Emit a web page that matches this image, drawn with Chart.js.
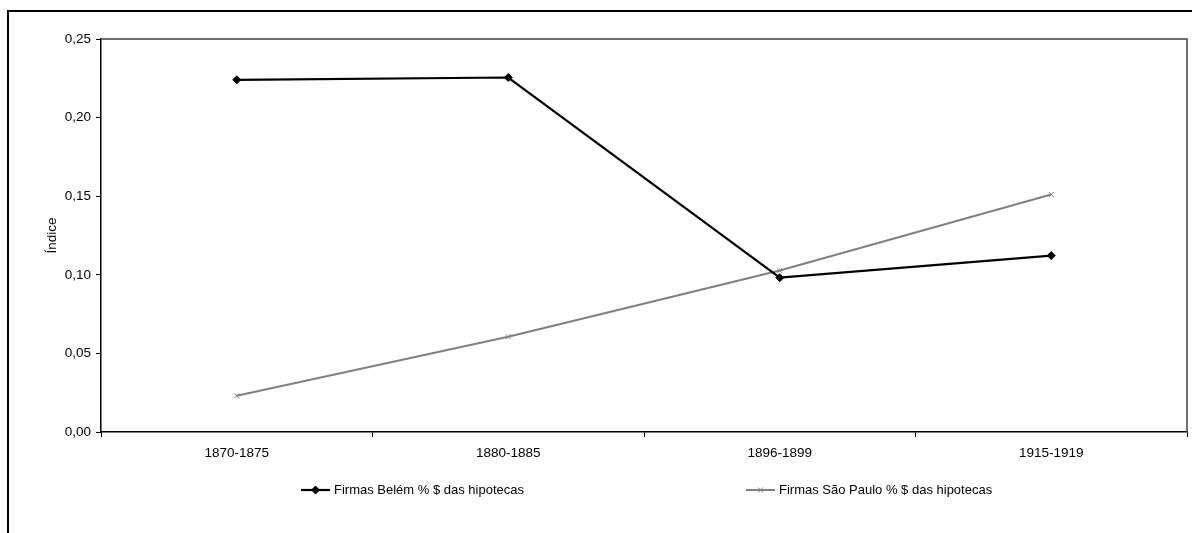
<!DOCTYPE html>
<html>
<head>
<meta charset="utf-8">
<script src="https://cdn.jsdelivr.net/npm/chart.js@4"></script>
<style>
body{margin:0;background:#fff;overflow:hidden}
#box{position:absolute;left:7px;top:10px;width:1200px;height:540px;border:2px solid #000;box-sizing:border-box}
#wrap{position:absolute;left:0;top:0;width:1192px;height:533px}
</style>
</head>
<body>
<div id="box"></div>
<div id="wrap"><canvas id="chart"></canvas></div>
<script>
const periods=["1870-1875","1880-1885","1896-1899","1915-1919"];
const belem=[0.224,0.2255,0.0982,0.1122];
const saoPaulo=[0.023,0.0606,0.1027,0.1511];
const seriesNames=["Firmas Belém % $ das hipotecas","Firmas São Paulo % $ das hipotecas"];
const yTicks=[0,0.05,0.10,0.15,0.20,0.25];

const font="'Liberation Sans', Arial, sans-serif";
const ctx=document.getElementById("chart");

/* moldura da área do gráfico (topo e direita) */
const frame={
  id:"frame",
  beforeDatasetsDraw(c){
    const a=c.chartArea,g=c.ctx;
    g.save();
    g.strokeStyle="#404040";g.lineWidth=1.5;
    g.beginPath();g.moveTo(a.left,a.top);g.lineTo(a.right,a.top);g.lineTo(a.right,a.bottom);g.stroke();
    g.restore();
  }
};

/* legenda no estilo Excel: linha + marcador */
const legendX=[301,746],legendY=490;
const excelLegend={
  id:"excelLegend",
  afterDraw(c){
    const g=c.ctx;
    c.data.datasets.forEach((d,i)=>{
      const x=legendX[i];
      g.save();
      g.strokeStyle=d.borderColor;g.lineWidth=d.borderWidth;
      g.beginPath();g.moveTo(x,legendY);g.lineTo(x+29,legendY);g.stroke();
      g.fillStyle=d.pointBackgroundColor;g.strokeStyle=d.pointBorderColor;g.lineWidth=d.pointBorderWidth;
      Chart.helpers.drawPoint(g,{pointStyle:d.pointStyle,radius:d.pointRadius,borderWidth:d.pointBorderWidth,rotation:0},x+14.5,legendY);
      g.fillStyle="#000";g.font="13px "+font;g.textBaseline="middle";g.textAlign="left";
      g.fillText(d.label,x+33,legendY);
      g.restore();
    });
  }
};

new Chart(ctx,{
  type:"line",
  data:{
    labels:periods,
    datasets:[{
      label:seriesNames[0],
      data:belem,
      borderColor:"#000",
      borderWidth:2.2,
      pointStyle:"rectRot",
      pointRadius:4,
      pointBackgroundColor:"#000",
      pointBorderColor:"#000",
      pointBorderWidth:1,
      tension:0
    },{
      label:seriesNames[1],
      data:saoPaulo,
      borderColor:"#808080",
      borderWidth:2,
      pointStyle:"crossRot",
      pointRadius:3.5,
      pointBackgroundColor:"#808080",
      pointBorderColor:"#808080",
      pointBorderWidth:1,
      tension:0
    }]
  },
  options:{
    responsive:true,
    maintainAspectRatio:false,
    animation:false,
    layout:{padding:{left:40,top:39,right:4,bottom:61}},
    plugins:{legend:{display:false},tooltip:{enabled:false}},
    scales:{
      x:{
        offset:true,
        grid:{offset:true,drawOnChartArea:false,drawTicks:true,tickLength:5,color:"#000",lineWidth:1},
        border:{color:"#000",width:1.5},
        ticks:{color:"#000",font:{family:font,size:13.5},padding:8,maxRotation:0},
        afterFit(s){s.height=40}
      },
      y:{
        min:0,max:0.25,
        afterBuildTicks(s){s.ticks=yTicks.map(v=>({value:v}))},
        grid:{drawOnChartArea:false,drawTicks:true,tickLength:5,color:"#000",lineWidth:1},
        border:{color:"#000",width:1.5},
        ticks:{color:"#000",font:{family:font,size:13.5},padding:5,callback:v=>v.toFixed(2).replace(".",",")},
        title:{display:true,text:"Índice",color:"#000",font:{family:font,size:13.5}},
        afterFit(s){s.width=61}
      }
    }
  },
  plugins:[frame,excelLegend]
});
</script>
</body>
</html>
